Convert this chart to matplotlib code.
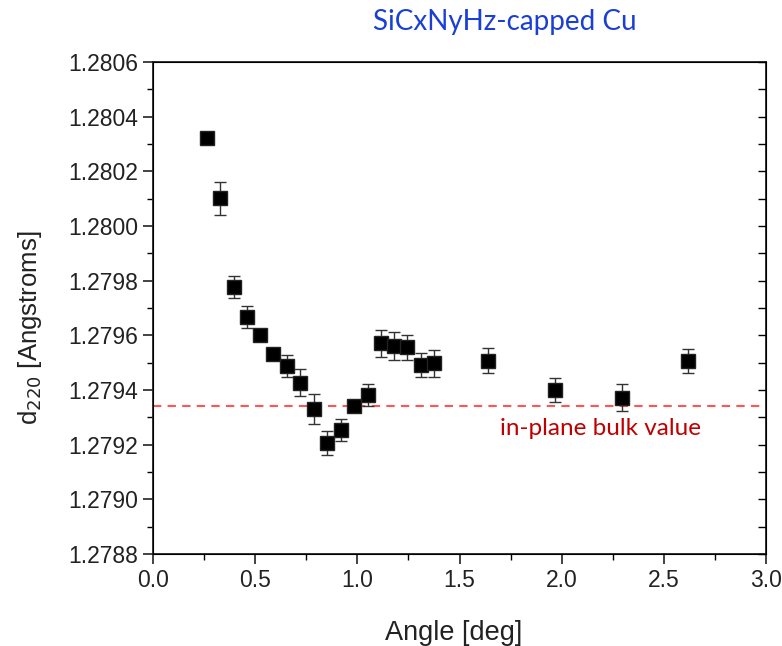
import matplotlib
matplotlib.use('Agg')
import matplotlib.pyplot as plt
from matplotlib.ticker import MultipleLocator, FormatStrFormatter

angle = [0.263, 0.329, 0.395, 0.459, 0.525, 0.589, 0.656, 0.721, 0.786, 0.853, 0.919,
         0.984, 1.051, 1.116, 1.181, 1.245, 1.312, 1.377, 1.641, 1.968, 2.294, 2.620]
d220 = [1.280323, 1.280101, 1.279776, 1.279668, 1.279600, 1.279530, 1.279488, 1.279427,
        1.279330, 1.279207, 1.279253, 1.279341, 1.279383, 1.279571, 1.279561, 1.279556,
        1.279491, 1.279498, 1.279507, 1.279400, 1.279372, 1.279507]
d220_err = [0.00002, 0.00006, 0.00004, 0.00004, 0.00002, 0.00002, 0.00004, 0.00005,
            0.000055, 0.000043, 0.00004, 0.00002, 0.00004, 0.00005, 0.00005, 0.000045,
            0.000045, 0.00005, 0.000045, 0.000045, 0.00005, 0.000043]
bulk_value = 1.27934

plt.rcParams['font.family'] = ['Liberation Sans', 'DejaVu Sans']

fig = plt.figure(figsize=(7.82, 6.46), dpi=100)
ax = fig.add_axes([0.1957, 0.1424, 0.7838, 0.7616])

ax.errorbar(angle, d220, yerr=d220_err, fmt='s', color='black', ecolor='#333333',
            elinewidth=1.0, capsize=4, capthick=1.0, markersize=10,
            markeredgecolor='#222222', zorder=3)
ax.axhline(bulk_value, color='#ff5555', linestyle=(0, (4, 3)), linewidth=1.5, zorder=2)
ax.text(2.19, 1.27926, 'in-plane bulk value', color='#c00000', fontsize=17.5,
        family='Lato', ha='center', va='center')

ax.set_xlim(0, 3.0)
ax.set_ylim(1.2788, 1.2806)
ax.xaxis.set_major_locator(MultipleLocator(0.5))
ax.xaxis.set_minor_locator(MultipleLocator(0.25))
ax.yaxis.set_major_locator(MultipleLocator(0.0002))
ax.yaxis.set_minor_locator(MultipleLocator(0.0001))
ax.xaxis.set_major_formatter(FormatStrFormatter('%.1f'))
ax.yaxis.set_major_formatter(FormatStrFormatter('%.4f'))
ax.tick_params(which='major', direction='out', length=7, width=1.2, labelsize=16.5,
               colors='#222222', pad=4)
ax.tick_params(which='minor', direction='out', length=4, width=1.0)
for s in ax.spines.values():
    s.set_linewidth(1.3)
    s.set_color('#222222')

ax2 = ax.twinx()
ax2.set_ylim(ax.get_ylim())
ax2.yaxis.set_major_locator(MultipleLocator(0.0001))
ax2.tick_params(direction='in', length=6, width=1.0, labelright=False)

ax.set_xlabel('Angle [deg]', fontsize=19.5, color='#222222')
ax.set_ylabel('d$_{220}$ [Angstroms]', fontsize=18.5, color='#222222')
ax.xaxis.set_label_coords(0.49, -0.134)
ax.yaxis.set_label_coords(-0.178, 0.459)

fig.text(0.645, 0.966, 'SiCxNyHz-capped Cu', color='#1a3fd6', fontsize=20,
         family='Lato', ha='center', va='center')

fig.savefig('out.png', dpi=100)
